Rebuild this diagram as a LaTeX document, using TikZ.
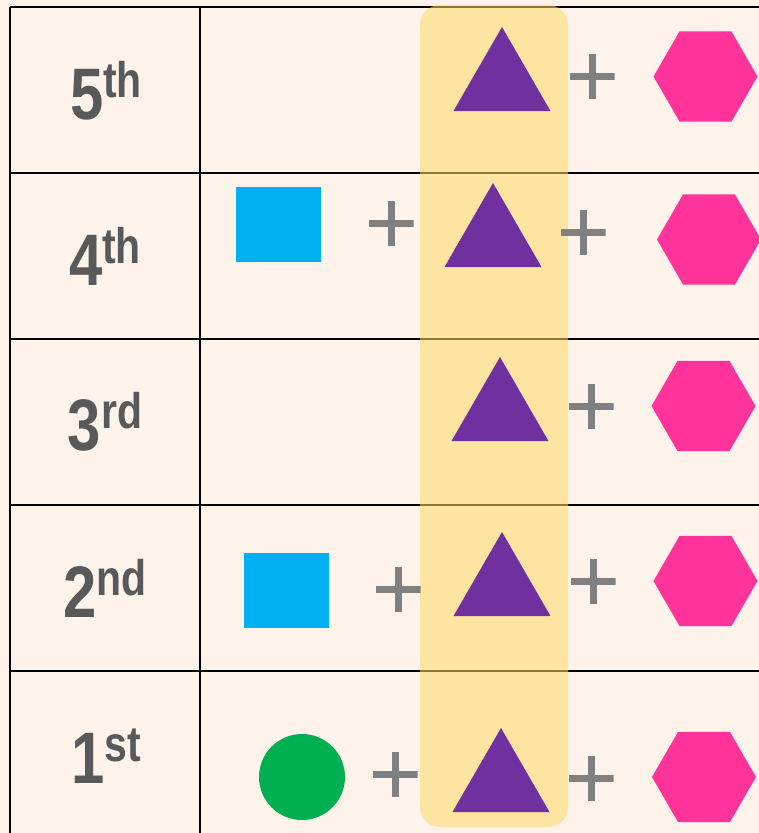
\documentclass[tikz,border=0pt]{standalone}
\usepackage{fontspec}
\newfontfamily\lblfont[FakeStretch=0.82]{Liberation Sans}
\usetikzlibrary{shapes.geometric}
\definecolor{bgc}{HTML}{FDF3EA}
\definecolor{hlc}{HTML}{FFD966}
\definecolor{tric}{HTML}{7030A0}
\definecolor{hexc}{HTML}{FF3399}
\definecolor{sqc}{HTML}{00B0F0}
\definecolor{circc}{HTML}{00B050}
\definecolor{plusc}{HTML}{808080}
\definecolor{lblc}{HTML}{595959}
\newcommand{\ordlbl}[2]{\lblfont\bfseries\fontsize{73}{73}\selectfont #1\raisebox{22pt}{\fontsize{50}{50}\selectfont #2}}
\tikzset{
  grid line/.style={line width=2.6pt, black},
  rowlabel/.style={anchor=base, inner sep=0pt, text=lblc},
  tribox/.style={regular polygon, regular polygon sides=3, minimum size=112pt, inner sep=0pt, fill=tric},
  hexbox/.style={regular polygon, regular polygon sides=6, minimum size=104pt, inner sep=0pt, fill=hexc},
  sqbox/.style={rectangle, minimum width=85pt, minimum height=75pt, inner sep=0pt, fill=sqc},
  circbox/.style={circle, minimum size=86pt, inner sep=0pt, fill=circc},
  plussign/.style={rectangle, minimum size=45pt, inner sep=0pt,
    path picture={
      \fill[plusc] (path picture bounding box.west) ++(0pt,-3.5pt) rectangle ++(45pt,7pt);
      \fill[plusc] (path picture bounding box.south) ++(-3.5pt,0pt) rectangle ++(7pt,45pt);
    }},
  highlight/.style={rectangle, rounded corners=20pt, fill=hlc, fill opacity=0.55, minimum width=148pt, minimum height=822pt, inner sep=0pt}
}
\begin{document}
\begin{tikzpicture}[x=1pt,y=-1pt]
\useasboundingbox (0,0) rectangle (759,833);
\clip (0,0) rectangle (759,833);
\fill[bgc] (0,0) rectangle (759,833);
% grid
\foreach \yy in {7,173,339,505,671} \draw[grid line] (10,\yy) -- (770,\yy);
\draw[grid line] (10,7) -- (10,840);
\draw[grid line] (200,7) -- (200,840);
% highlight column
\node[highlight] (hl) at (494,416) {};
% labels
\node[rowlabel] (l5) at (106,119) {\ordlbl{5}{th}};
\node[rowlabel] (l4) at (105,285) {\ordlbl{4}{th}};
\node[rowlabel] (l3) at (105,450) {\ordlbl{3}{rd}};
\node[rowlabel] (l2) at (105,617) {\ordlbl{2}{nd}};
\node[rowlabel] (l1) at (106,783) {\ordlbl{1}{st}};
% row 5
\node[tribox] (t5) at (502,83) {};
\node[plussign] (p5b) at (592,76) {};
\node[hexbox] (h5) at (705.5,76.5) {};
% row 4
\node[sqbox] (s4) at (278.5,224.5) {};
\node[plussign] (p4a) at (391,223) {};
\node[tribox] (t4) at (493,239) {};
\node[plussign] (p4b) at (583,232) {};
\node[hexbox] (h4) at (709,239.5) {};
% row 3
\node[tribox] (t3) at (500,413) {};
\node[plussign] (p3b) at (591,406) {};
\node[hexbox] (h3) at (703.5,406) {};
% row 2
\node[sqbox] (s2) at (286.5,590.5) {};
\node[plussign] (p2a) at (398,589) {};
\node[tribox] (t2) at (502,588) {};
\node[plussign] (p2b) at (593,581) {};
\node[hexbox] (h2) at (705.5,581) {};
% row 1
\node[circbox] (c1) at (302,777) {};
\node[plussign] (p1a) at (395,774) {};
\node[tribox] (t1) at (501,784) {};
\node[plussign] (p1b) at (591,778) {};
\node[hexbox] (h1) at (704,777) {};
\end{tikzpicture}
\end{document}
